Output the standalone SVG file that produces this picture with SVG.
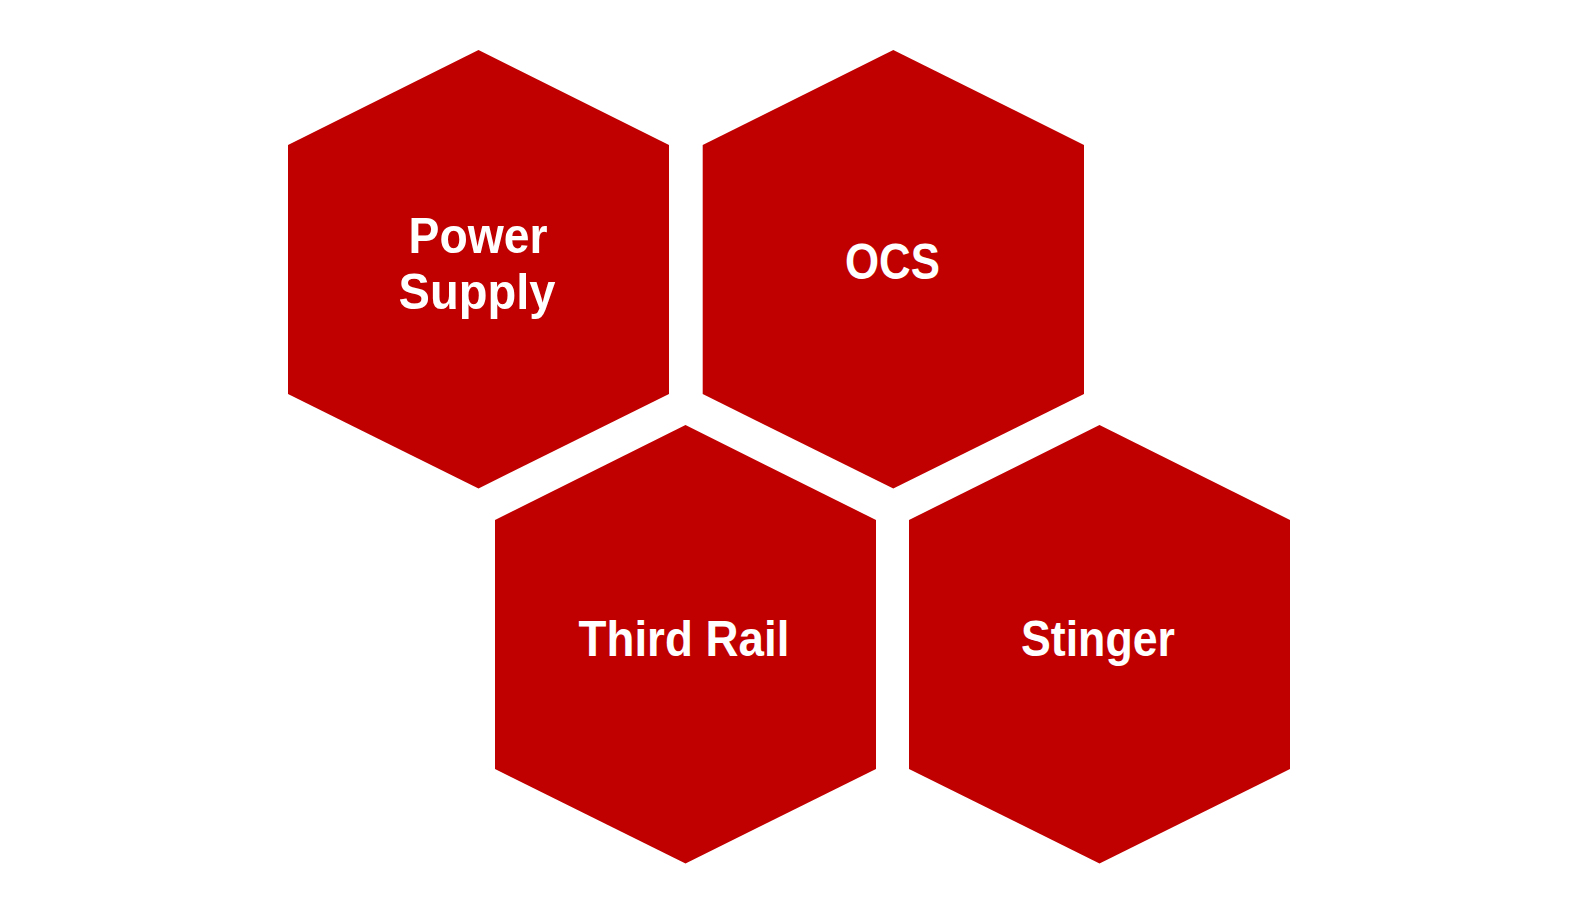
<svg xmlns="http://www.w3.org/2000/svg" width="1589" height="912" viewBox="0 0 1589 912">
  <style>
    .hex { fill: #C00000; stroke: none; }
    .lbl { fill: #FFFFFF; font-family: "Liberation Sans", Roboto, sans-serif; font-weight: 700; font-size: 50px; text-anchor: middle; font-variant-ligatures: none; }
  </style>
  <rect x="0" y="0" width="1589" height="912" fill="#FFFFFF"/>
  <g id="connectors"></g>
  <g id="node-power-supply">
    <polygon class="hex" points="478.5,50 669,145 669,394 478.5,488.5 288,394 288,145"/>
    <text class="lbl" x="478" y="252.5" textLength="139" lengthAdjust="spacingAndGlyphs">Power</text>
    <text class="lbl" x="477" y="308.5" textLength="157" lengthAdjust="spacingAndGlyphs">Supply</text>
  </g>
  <g id="node-ocs">
    <polygon class="hex" points="893.3,50 1084,145 1084,394 893.3,488.5 702.7,394 702.7,145"/>
    <text class="lbl" x="892.5" y="278.5" textLength="95" lengthAdjust="spacingAndGlyphs">OCS</text>
  </g>
  <g id="node-third-rail">
    <polygon class="hex" points="685.5,425 876,520 876,769 685.5,863.5 495,769 495,520"/>
    <text class="lbl" x="684" y="656" textLength="211" lengthAdjust="spacingAndGlyphs">Third Rail</text>
  </g>
  <g id="node-stinger">
    <polygon class="hex" points="1099.5,425 1290,520 1290,769 1099.5,863.5 909,769 909,520"/>
    <text class="lbl" x="1098" y="656" textLength="154" lengthAdjust="spacingAndGlyphs">Stinger</text>
  </g>
</svg>
